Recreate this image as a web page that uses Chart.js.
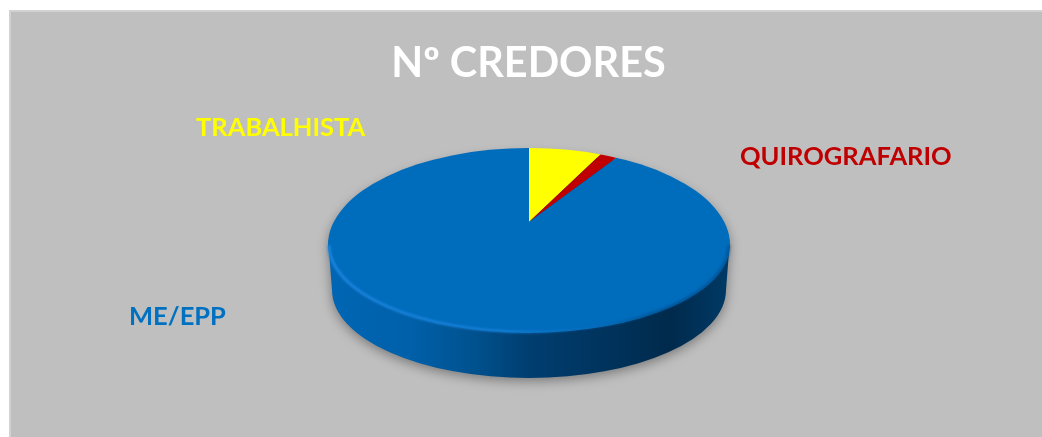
<!DOCTYPE html>
<html>
<head>
<meta charset="utf-8">
<style>html,body{margin:0;padding:0;background:#fff;overflow:hidden}canvas{display:block}</style>
<script src="https://cdn.jsdelivr.net/npm/chart.js@4/dist/chart.umd.min.js"></script>
</head>
<body>
<canvas id="c" width="1042" height="437"></canvas>
<script>
const categories = ["TRABALHISTA", "QUIROGRAFARIO", "ME/EPP"];
const values = [7.25, 1.7, 91.05];
const sliceColors = ["#FFFF00", "#C00000", "#006CBC"];
const labelColors = ["#FFFF00", "#C00000", "#0070C0"];
const chartTitle = "Nº CREDORES";

const FRAME = {x: 9, y: 10};
const TOP = {cx: 529, cy: 245, rx: 201, ryUp: 97, ryDown: 88, apexY: 222, squash: 0.4627};
const BOTTOM = {cx: 529, cy: 290, rx: 197, ry: 88};
const LABEL_POS = [{x: 196, y: 128}, {x: 740, y: 157}, {x: 129, y: 317}];

function facePath(ctx) {
  ctx.beginPath();
  ctx.ellipse(TOP.cx, TOP.cy, TOP.rx, TOP.ryUp, 0, Math.PI, 0, false);
  ctx.ellipse(TOP.cx, TOP.cy, TOP.rx, TOP.ryDown, 0, 0, Math.PI, false);
  ctx.closePath();
}

function rimPath(ctx) {
  ctx.beginPath();
  ctx.ellipse(TOP.cx, TOP.cy, TOP.rx - 0.5, TOP.ryUp - 4, 0, Math.PI, 0, false);
  ctx.lineTo(BOTTOM.cx + BOTTOM.rx, BOTTOM.cy);
  ctx.ellipse(BOTTOM.cx, BOTTOM.cy, BOTTOM.rx, BOTTOM.ry, 0, 0, Math.PI, false);
  ctx.closePath();
}

const pie3d = {
  id: "pie3d",
  beforeDraw(chart) {
    const ctx = chart.ctx;
    ctx.save();
    ctx.fillStyle = "#D2D2D2";
    ctx.fillRect(FRAME.x, FRAME.y, chart.width - FRAME.x, chart.height - FRAME.y);
    ctx.fillStyle = "#BFBFBF";
    ctx.fillRect(FRAME.x + 2, FRAME.y + 2, chart.width - FRAME.x - 2, chart.height - FRAME.y - 2);
    ctx.restore();
  },
  beforeDatasetsDraw(chart) {
    const ctx = chart.ctx;
    ctx.save();
    ctx.shadowColor = "rgba(0,0,0,0.38)";
    ctx.shadowBlur = 12;
    ctx.shadowOffsetY = 3;
    const g = ctx.createLinearGradient(TOP.cx - TOP.rx, 0, TOP.cx + TOP.rx, 0);
    g.addColorStop(0, "#0066B4");
    g.addColorStop(0.2, "#0060AA");
    g.addColorStop(0.36, "#00528F");
    g.addColorStop(0.5, "#003E70");
    g.addColorStop(0.68, "#00345E");
    g.addColorStop(0.85, "#002A4C");
    g.addColorStop(1, "#003A66");
    ctx.fillStyle = g;
    rimPath(ctx);
    ctx.fill();
    ctx.restore();
  },
  beforeDatasetDraw(chart) {
    const ctx = chart.ctx;
    const arc = chart.getDatasetMeta(0).data[0];
    const k = 270 / arc.outerRadius;
    ctx.save();
    facePath(ctx);
    ctx.clip();
    ctx.translate(TOP.cx, TOP.apexY);
    ctx.scale(k, k * TOP.squash);
    ctx.translate(-arc.x, -arc.y);
  },
  afterDatasetDraw(chart) {
    chart.ctx.restore();
  },
  afterDatasetsDraw(chart) {
    const ctx = chart.ctx;
    ctx.save();
    ctx.filter = "blur(1px)";
    const h = ctx.createLinearGradient(TOP.cx - TOP.rx, 0, TOP.cx + TOP.rx, 0);
    h.addColorStop(0, "rgba(30,135,225,0.9)");
    h.addColorStop(0.45, "rgba(30,135,225,0.65)");
    h.addColorStop(0.62, "rgba(30,120,200,0.2)");
    h.addColorStop(0.8, "rgba(0,60,110,0.45)");
    h.addColorStop(1, "rgba(0,70,130,0.55)");
    ctx.strokeStyle = h;
    ctx.lineWidth = 3;
    ctx.beginPath();
    ctx.ellipse(TOP.cx, TOP.cy, TOP.rx - 1, TOP.ryDown - 1, 0, Math.PI, 0, true);
    ctx.stroke();
    ctx.restore();

    ctx.save();
    ctx.font = "bold 25.5px Lato";
    ctx.textBaseline = "middle";
    ctx.textAlign = "left";
    categories.forEach((name, i) => {
      ctx.fillStyle = labelColors[i];
      ctx.fillText(name, LABEL_POS[i].x, LABEL_POS[i].y);
    });
    ctx.restore();
  }
};

new Chart(document.getElementById("c"), {
  type: "pie",
  plugins: [pie3d],
  data: {
    labels: categories,
    datasets: [{data: values, backgroundColor: sliceColors, borderWidth: 0}]
  },
  options: {
    responsive: false,
    animation: false,
    layout: {padding: {left: 15}},
    plugins: {
      legend: {display: false},
      tooltip: {enabled: false},
      title: {
        display: true,
        text: chartTitle,
        color: "#FFFFFF",
        font: {family: "Lato", size: 41.4, weight: "bold"},
        padding: {top: 38.5, bottom: 10}
      }
    }
  }
});
</script>
</body>
</html>
